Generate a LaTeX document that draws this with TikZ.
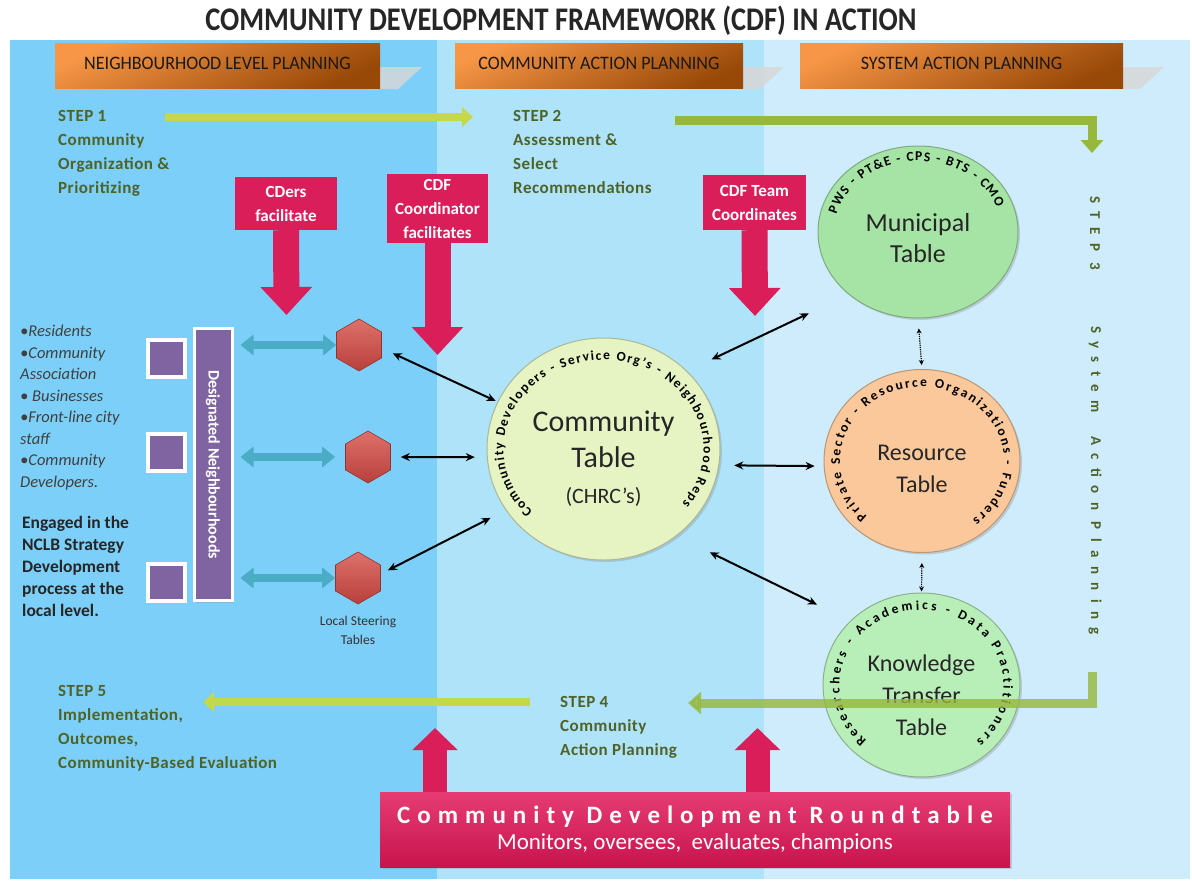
\documentclass[tikz,border=0pt]{standalone}
\usepackage{fontspec}
\setmainfont{Carlito}
\newfontfamily\titlefont[FakeStretch=0.86]{Carlito}
\newfontfamily\tabfont[FakeStretch=0.95]{Carlito}
\newfontfamily\rtfont[LetterSpace=28]{Carlito}
\newfontfamily\stepfont[LetterSpace=3]{Carlito}
\newfontfamily\sidefont[LetterSpace=56]{Carlito}
\usetikzlibrary{positioning,shapes.geometric,arrows.meta,decorations.text,shadows}

\definecolor{pnlA}{RGB}{124,207,249}
\definecolor{pnlB}{RGB}{174,227,250}
\definecolor{pnlC}{RGB}{206,236,252}
\definecolor{tabA}{RGB}{247,150,70}
\definecolor{tabB}{RGB}{152,72,7}
\definecolor{tabgray}{RGB}{215,215,215}
\definecolor{crim}{RGB}{217,30,90}
\definecolor{rtTop}{RGB}{230,60,115}
\definecolor{rtBot}{RGB}{200,20,78}
\definecolor{stepTxt}{RGB}{79,98,40}
\definecolor{lime}{RGB}{197,216,74}
\definecolor{leaf}{RGB}{151,184,60}
\definecolor{tealA}{RGB}{75,172,198}
\definecolor{hexTop}{RGB}{222,112,106}
\definecolor{hexBot}{RGB}{184,64,60}
\definecolor{purp}{RGB}{128,100,162}
\definecolor{ctFill}{RGB}{230,244,196}
\definecolor{munFill}{RGB}{166,228,166}
\definecolor{resFill}{RGB}{250,200,155}
\definecolor{ktFill}{RGB}{184,238,184}
\definecolor{inkgray}{RGB}{64,64,64}

\def\dblk{\draw[pairarr]}
\def\ringfont{\bfseries\fontsize{13.5}{13.5}\selectfont}
\newcommand\ringtext[6]{%
  \begin{scope}[shift={(#1.center)},y=1pt]
    \path[decorate,decoration={text along path,text align=fit to path,
      text={|\ringfont|#6}}]
      (#2:#4 and #5) arc[start angle=#2,end angle=#3,x radius=#4,y radius=#5];
  \end{scope}}

\tikzset{
  tabbox/.style={rectangle,top color=tabA,bottom color=tabB,shading angle=25,
    minimum height=45,inner sep=0pt,text=black!90,font=\tabfont\fontsize{19}{19}\selectfont},
  steptext/.style={anchor=north west,align=left,inner sep=0pt,text=stepTxt,
    font=\stepfont\bfseries\fontsize{17}{24}\selectfont},
  sidetext/.style={anchor=west,rotate=-90,inner sep=0pt,text=stepTxt,
    font=\sidefont\bfseries\fontsize{15}{15}\selectfont},
  redbox/.style={rectangle,fill=crim,text=white,align=center,inner sep=0pt,
    font=\bfseries\fontsize{17}{24}\selectfont},
  redarr/.style={draw=crim,line width=26pt,-{Triangle[length=28pt,width=50pt]}},
  redup/.style={draw=crim,line width=24pt,-{Triangle[length=22pt,width=44pt]}},
  limearr/.style={draw=lime,line width=8pt,-{Triangle[length=11pt,width=19pt]}},
  leafarr/.style={draw=leaf,line width=9pt,line join=miter,-{Triangle[length=13pt,width=22pt]}},
  tealarr/.style={draw=tealA,line width=8pt,
    {Triangle[length=13pt,width=20pt]}-{Triangle[length=13pt,width=20pt]}},
  pairarr/.style={black,line width=2pt,{Stealth[length=9pt,width=8pt]}-{Stealth[length=9pt,width=8pt]}},
  dotarr/.style={black,line width=1.2pt,densely dotted,
    {Stealth[length=5pt,width=5pt]}-{Stealth[length=5pt,width=5pt]}},
  hexnode/.style={regular polygon,regular polygon sides=6,shape border rotate=30,
    minimum size=52,inner sep=0pt,top color=hexTop,bottom color=hexBot,
    draw=hexBot!80!black,line width=0.6pt},
  purpsq/.style={rectangle,fill=purp,draw=white,line width=4pt,minimum size=37,
    inner sep=0pt,drop shadow={opacity=0.25}},
  tablecirc/.style={ellipse,inner sep=0pt,line width=1pt,
    drop shadow={opacity=0.3,shadow xshift=2pt,shadow yshift=-2pt}},
  tabletxt/.style={align=center,inner sep=0pt,text=black!85}
}

\begin{document}
\begin{tikzpicture}[x=1pt,y=-1pt]
\useasboundingbox (0,0) rectangle (1192,881);
% panels
\fill[white] (0,0) rectangle (1192,881);
\fill[pnlA] (10,40) rectangle (437,879);
\fill[pnlB] (437,40) rectangle (764,879);
\fill[pnlC] (764,40) rectangle (1190,879);

\node[font=\titlefont\bfseries\fontsize{33}{33}\selectfont,text=black!85] (title) at (561,21)
  {COMMUNITY DEVELOPMENT FRAMEWORK (CDF) IN ACTION};

% tabs and their flaps
\fill[tabgray,opacity=.85] (370,67) -- (422,67) -- (398,89) -- (370,89) -- cycle;
\fill[tabgray,opacity=.85] (733,67) -- (784,67) -- (760,89) -- (733,89) -- cycle;
\fill[tabgray,opacity=.85] (1113,67) -- (1164,67) -- (1140,89) -- (1113,89) -- cycle;
\node[tabbox,minimum width=325] (tabN) at (217.5,65.5) {\raisebox{5pt}{NEIGHBOURHOOD LEVEL PLANNING}};
\node[tabbox,minimum width=288] (tabC) at (599,65.5) {\raisebox{5pt}{COMMUNITY ACTION PLANNING}};
\node[tabbox,minimum width=323] (tabS) at (961.5,65.5) {\raisebox{5pt}{SYSTEM ACTION PLANNING}};

% steps
\node[steptext] (stepA) at (58,110) {STEP 1\\Community\\Organization \&\\Prioritizing};
\node[steptext] (stepB) at (513,110) {STEP 2\\Assessment \&\\Select\\Recommendations};
\node[steptext] (stepD) at (560,696) {STEP 4\\Community\\Action Planning};
\node[steptext] (stepE) at (58,685) {STEP 5\\Implementation,\\Outcomes,\\Community-Based Evaluation};
\node[sidetext] (stepC) at (1095,196) {STEP 3};
\node[sidetext] (stepCsub) at (1095,326) {System\ \ Action Planning};

\coordinate (limeA0) at (165,117); \coordinate (limeA1) at (473,117);
\draw[limearr] (limeA0) -- (limeA1);
\coordinate (leafB0) at (675,120); \coordinate (leafB1) at (1092,120); \coordinate (leafB2) at (1092,153);
\draw[leafarr] (leafB0) -- (leafB1) -- (leafB2);
\coordinate (limeE0) at (530,702); \coordinate (limeE1) at (203,702);
\draw[limearr] (limeE0) -- (limeE1);

% left: neighbourhoods
\node[anchor=north west,align=left,inner sep=0pt,text=inkgray,
  font=\itshape\fontsize{16.5}{21.5}\selectfont] (who) at (20,325)
  {•Residents\\•Community\\Association\\• Businesses\\•Front-line city\\staff\\•Community\\Developers.};
\node[anchor=north west,align=left,inner sep=0pt,text=black!85,
  font=\bfseries\fontsize{17.5}{22}\selectfont] (engaged) at (22,516)
  {Engaged in the\\NCLB Strategy\\Development\\process at the\\local level.};
\node[purpsq] (sqA) at (166,358) {};
\node[purpsq] (sqB) at (166,452) {};
\node[purpsq] (sqC) at (166,582) {};
\node[rectangle,fill=purp,draw=white,line width=3pt,rotate=-90,minimum width=272,
  minimum height=38,inner sep=0pt,text=white,font=\bfseries\fontsize{16}{16}\selectfont,
  drop shadow={opacity=0.25}] (bar) at (213,464.5) {Designated Neighbourhoods};

\node[hexnode] (hexA) at (359,345) {};
\node[hexnode] (hexB) at (368,457) {};
\node[hexnode] (hexC) at (358,578) {};
\node[font=\fontsize{13.5}{19}\selectfont,text=black!80,align=center,anchor=north,inner sep=0pt]
  (lst) at (358,616) {Local Steering\\Tables};
\draw[tealarr,shorten <=7pt] (bar.north |- hexA) -- (hexA.180);
\draw[tealarr,shorten <=7pt,shorten >=10pt] (bar.north |- hexB) -- (hexB.180);
\draw[tealarr,shorten <=7pt] (bar.north |- hexC) -- (hexC.180);

% red facilitators
\node[redbox,minimum width=102,minimum height=53] (cders) at (286,203.5) {CDers\\facilitate};
\node[redbox,minimum width=101,minimum height=69] (cdfco) at (437.5,208.5) {CDF\\Coordinator\\facilitates};
\node[redbox,minimum width=103,minimum height=55] (cdfteam) at (754.5,202.5) {CDF Team\\Coordinates};
\coordinate (cdersTip) at (286.5,315);
\coordinate (cdfcoTip) at (437.5,355);
\coordinate (cdfteamTip) at (755,316);
\draw[redarr] (cders.south) -- (cdersTip);
\draw[redarr] (cdfco.south) -- (cdfcoTip);
\draw[redarr] (cdfteam.south) -- (cdfteamTip);

% tables
\node[tablecirc,fill=ctFill,draw=ctFill!75!black,minimum width=233,minimum height=222] (ct) at (603.5,449) {};
\node[tabletxt,font=\fontsize{30}{36}\selectfont] (ctTxt) at (603.5,459)
  {Community\\Table\\{\fontsize{22}{30}\selectfont(CHRC’s)}};
\ringtext{ct}{225}{-38}{100}{89}{Community Developers - Service Org's - Neighbourhood Reps}

\node[tablecirc,fill=munFill,draw=munFill!75!black,minimum width=200,minimum height=172] (mun) at (918,232) {};
\node[tabletxt,font=\fontsize{26}{31}\selectfont] (munTxt) at (918,238) {Municipal\\Table};
\ringtext{mun}{166}{20}{84}{71}{PWS - PT{\&}E - CPS - BTS - CMO}

\node[tablecirc,fill=resFill,draw=resFill!75!black,minimum width=196,minimum height=183] (res) at (922,461) {};
\node[tabletxt,font=\fontsize{24}{32}\selectfont] (resTxt) at (922,469) {Resource\\Table};
\ringtext{res}{228}{-52}{82}{74}{Private Sector - Resource Organizations - Funders}

\node[tablecirc,fill=ktFill,draw=ktFill!75!black,minimum width=197,minimum height=184] (kt) at (921.5,685) {};
\node[tabletxt,font=\fontsize{24}{32}\selectfont] (ktTxt) at (921.5,695) {Knowledge\\Transfer\\Table};
\ringtext{kt}{228}{-48}{82}{75}{Researchers - Academics - Data Practitioners}

\coordinate (leafD0) at (1092,672); \coordinate (leafD1) at (1092,703); \coordinate (leafD2) at (688,703);
\draw[leafarr,opacity=.8] (leafD0) -- (leafD1) -- (leafD2);

% links between tables
\dblk[shorten <=12pt,shorten >=2pt] (hexA.-8) -- (ct.156);
\dblk[shorten <=10pt,shorten >=12pt] (hexB.0) -- (ct.184);
\dblk[shorten <=8pt,shorten >=17pt] (hexC.10) -- (ct.212);
\dblk[shorten <=27pt,shorten >=44pt] (ct.43) -- (mun.222);
\dblk[shorten <=15pt,shorten >=9pt] (ct.-8) -- (res.183);
\dblk[shorten <=37pt,shorten >=37pt] (ct.-50) -- (kt.138);
\draw[dotarr,shorten <=10pt,shorten >=4pt] (mun.south) -- (res.north);
\draw[dotarr,shorten <=10pt,shorten >=1pt] (res.south) -- (kt.north);

% roundtable
\node[rectangle,top color=rtTop,bottom color=rtBot,minimum width=630,minimum height=75,
  inner sep=0pt,align=center,text=white,drop shadow={opacity=0.3}] (rt) at (695,829.5)
  {{\rtfont\bfseries\fontsize{25}{30}\selectfont Community Development Roundtable}\\[5pt]
   {\fontsize{23}{26}\selectfont Monitors, oversees,\ \ evaluates, champions}};
\coordinate (upA) at (435,728); \coordinate (upB) at (757.5,728);
\draw[redup] (rt.north -| upA) -- (upA);
\draw[redup] (rt.north -| upB) -- (upB);
\end{tikzpicture}
\end{document}
